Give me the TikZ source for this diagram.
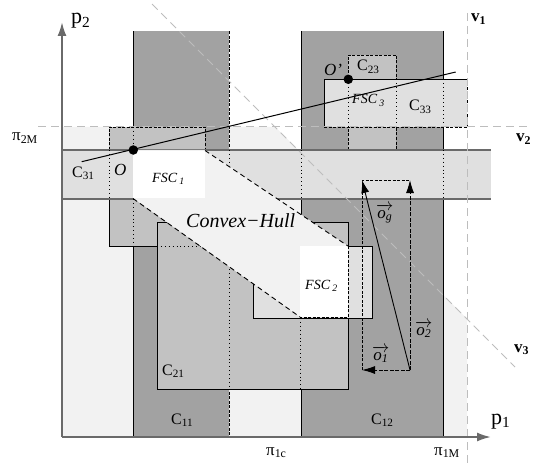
\documentclass[tikz,border=0pt]{standalone}
\usepackage{fontspec}
\setmainfont{Liberation Serif}
\usetikzlibrary{arrows.meta}
\definecolor{dk}{HTML}{A2A2A2}
\definecolor{md}{HTML}{C2C2C2}
\definecolor{lt}{HTML}{E0E0E0}
\definecolor{fe}{HTML}{F2F2F2}
\definecolor{vl}{HTML}{BDBDBD}
\definecolor{ax}{HTML}{6A6A6A}
\newcommand\szP{\fontsize{22}{24}\selectfont}
\newcommand\szPi{\fontsize{17}{19}\selectfont}
\newcommand\szV{\fontsize{17}{19}\selectfont}
\newcommand\szC{\fontsize{16}{18}\selectfont}
\newcommand\szF{\fontsize{14}{16}\selectfont}
\newcommand\szH{\fontsize{20}{22}\selectfont}
\newcommand\szO{\fontsize{17}{19}\selectfont}
\newcommand\vecl[2]{$\overrightarrow{\hbox{\textit{#1}\textsubscript{\textit{#2}}}}$}
\begin{document}
\begin{tikzpicture}[x=1pt,y=-1pt,
  edge/.style={line width=0.8pt,black},
  dsh/.style={line width=0.8pt,black,dash pattern=on 3pt off 1.5pt},
  hid/.style={line width=0.9pt,black,dash pattern=on 0.9pt off 3pt},
  hulledge/.style={line width=0.9pt,black,dash pattern=on 5pt off 3.5pt},
  vline/.style={line width=1pt,vl,dash pattern=on 8pt off 5pt},
  bandline/.style={line width=1.4pt,ax},
  axis/.style={line width=2pt,ax,-{Latex[length=14pt,width=9pt]}},
  vecarrow/.style={line width=0.9pt,black,-{Latex[length=13pt,width=8pt]}},
  vecdash/.style={vecarrow,dash pattern=on 4pt off 1.5pt},
  lbl/.style={inner sep=0pt,anchor=base west},
  dot/.style={circle,fill=black,inner sep=0pt,minimum size=9.5pt}]
\useasboundingbox (0,0) rectangle (537,465);
% feasible region
\fill[fe] (62,127) -- (275.3,127) -- (467,318.7) -- (467,437) -- (62,437) -- cycle;
% columns C11 and C12
\fill[dk] (133,31.5) rectangle (229,437);
\draw[edge] (133,31.5) -- (133,437);
\draw[dsh] (229,31.5) -- (229,437);
\fill[dk] (301,31) rectangle (443,437);
\draw[edge] (301,31) -- (301,437);
\draw[edge] (443,31) -- (443,437);
% medium box upper left
\fill[md] (109,127) rectangle (205,246);
\draw[dsh] (109,150) -- (109,127) -- (205,127) -- (205,246);
\draw[edge] (109,199) -- (109,246) -- (205,246);
% C21
\fill[md] (157,222) rectangle (348,389);
\draw[edge] (157,222) rectangle (348,389);
% C23
\fill[md] (348,55) rectangle (396,150);
\draw[dsh] (348,150) -- (348,55) -- (396,55) -- (396,150);
% band C31
\fill[lt] (62,150) rectangle (491,199);
\draw[bandline] (62,150) -- (491,150);
\draw[bandline] (62,199) -- (491,199);
% C33
\fill[lt] (324,79) rectangle (467,127);
\draw[edge] (467,79) -- (324,79) -- (324,127);
\draw[dsh] (324,127) -- (467,127) -- (467,79);
% box around FSC2
\fill[lt] (253,246) rectangle (372,318);
\draw[edge] (253,246) rectangle (372,318);
% hidden edges
\draw[hid] (109,150) -- (109,199);
\draw[hid] (133,127) -- (133,150);
\draw[hid] (133,199) -- (133,246);
\draw[hid] (229,150) -- (229,199);
\draw[hid] (229,222) -- (229,389);
\draw[hid] (301,150) -- (301,199);
\draw[hid] (443,150) -- (443,199);
\draw[hid] (300,318) -- (300,389);
\draw[hid] (157,246) -- (205,246);
\draw[hid] (348,79) -- (348,127);
\draw[hid] (396,79) -- (396,127);
\draw[hid] (443,79) -- (443,127);
% convex hull and FSC boxes
\fill[fe] (133,150) -- (205,150) -- (348,246) -- (348,317) -- (300,317) -- (133,198) -- cycle;
\fill[white] (133,150.8) rectangle (205,198.3);
\fill[white] (300,246) rectangle (348,317);
\draw[hulledge] (205,150.5) -- (348,246);
\draw[hulledge] (133,198.5) -- (300,317);
\draw[dsh] (348,246) -- (348,317) -- (300,317);
% v1 v2 v3
\draw[vline] (467,13) -- (467,465);
\draw[vline] (38,127) -- (530,127);
\draw[vline] (152,4) -- (515,367);
% line through O
\coordinate (la) at (81.7,161.7);
\coordinate (lb) at (455.7,72);
\draw[line width=1pt,black] (la) -- (lb);
\node[dot] (O) at (133.3,150) {};
\node[dot] (Op) at (348.3,79.3) {};
% vectors
\coordinate (vbr) at (410,370);
\coordinate (vbl) at (362,370);
\coordinate (vtl) at (362,180);
\coordinate (vtr) at (410,180);
\draw[dsh] (vbl) -- (vtl) -- (vtr);
\draw[vecdash] (vbr) -- (vtr);
\draw[vecdash] (vbr) -- (vbl);
\draw[vecarrow] (vbr) -- (vtl);
% axes
\coordinate (orig) at (62,437);
\coordinate (ytip) at (62,22);
\coordinate (xtip) at (491,437);
\draw[axis] (orig) -- (ytip);
\draw[axis] (orig) -- (xtip);
% labels
\node[lbl] (tp2) at (71,24) {\szP p\textsubscript{2}};
\node[lbl] (tp1) at (491,424) {\szP p\textsubscript{1}};
\node[lbl] (tpi2M) at (12,141) {\szPi π\textsubscript{2M}};
\node[lbl] (tpi1c) at (266,455) {\szPi π\textsubscript{1c}};
\node[lbl] (tpi1M) at (434,455) {\szPi π\textsubscript{1M}};
\node[lbl] (tv1) at (471,22) {\szV\bfseries v\textsubscript{1}};
\node[lbl] (tv2) at (516,142) {\szV\bfseries v\textsubscript{2}};
\node[lbl] (tv3) at (514,352) {\szV\bfseries v\textsubscript{3}};
\node[lbl] (tC31) at (72,177) {\szC C\textsubscript{31}};
\node[lbl] (tO) at (114,175) {\szO\itshape O};
\node[lbl] (tFSC1) at (152,182) {\szF\itshape FSC\,\textsubscript{1}};
\node[lbl] (thull) at (186,227) {\szH\itshape Convex−Hull};
\node[lbl] (tFSC2) at (305,289) {\szF\itshape FSC\,\textsubscript{2}};
\node[lbl] (tC21) at (162,375) {\szC C\textsubscript{21}};
\node[lbl] (tC11) at (171,424) {\szC C\textsubscript{11}};
\node[lbl] (tC12) at (371,424) {\szC C\textsubscript{12}};
\node[lbl] (tOp) at (324,76) {\szO\itshape O’};
\node[lbl] (tC23) at (357,71) {\szC C\textsubscript{23}};
\node[lbl] (tFSC3) at (352,104) {\szF\itshape FSC\,\textsubscript{3}};
\node[lbl] (tC33) at (409,111) {\szC C\textsubscript{33}};
\node[lbl] (tog) at (376,218) {\szO\vecl{o}{g}};
\node[lbl] (to2) at (415,335) {\szO\vecl{o}{2}};
\node[lbl] (to1) at (372,360) {\szO\vecl{o}{1}};
\end{tikzpicture}
\end{document}
